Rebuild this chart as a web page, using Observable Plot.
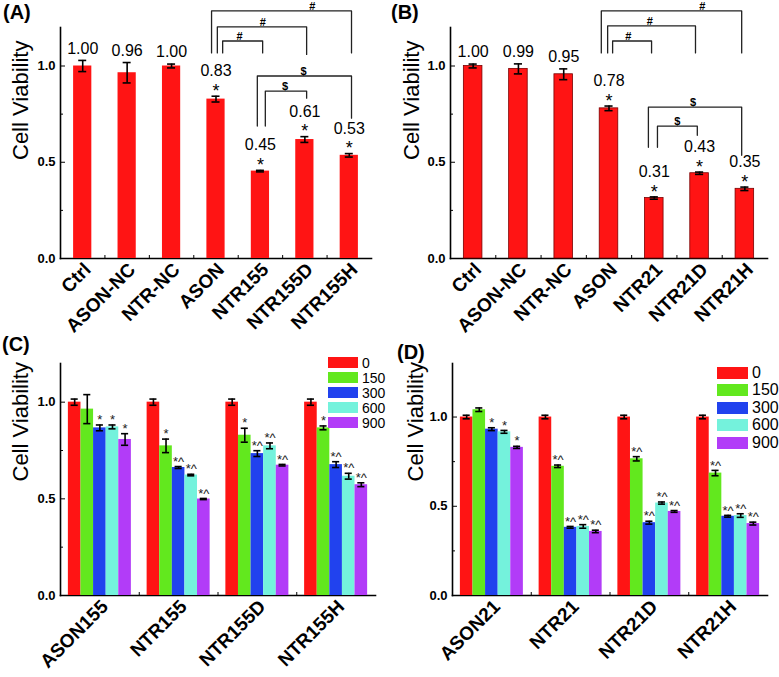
<!DOCTYPE html>
<html><head><meta charset="utf-8">
<script src="https://cdn.jsdelivr.net/npm/d3@7"></script>
<script src="https://cdn.jsdelivr.net/npm/@observablehq/plot@0.6"></script>
<style>
body{margin:0;background:#fff;font-family:Arial,"Liberation Sans",sans-serif;}
#wrap{position:relative;width:779px;height:677px;overflow:hidden;background:#fff;}
.abs{position:absolute;}
.plabel{position:absolute;font-weight:bold;font-size:20px;line-height:1;color:#000;}
.legend{position:absolute;}
.legend .row{display:flex;align-items:center;}
.legend .sw{display:inline-block;}
</style></head>
<body><div id="wrap"></div>
<script>
// ---------- data ----------
const catsA = ["Ctrl","ASON-NC","NTR-NC","ASON","NTR155","NTR155D","NTR155H"];
const valsA = [1.00,0.965,1.00,0.828,0.454,0.618,0.536];
const errsA = [0.029,0.053,0.010,0.015,0.004,0.015,0.009];
const lblsA = ["1.00","0.96","1.00","0.83","0.45","0.61","0.53"];
const starsA = ["","","","*","*","*","*"];

const catsB = ["Ctrl","ASON-NC","NTR-NC","ASON","NTR21","NTR21D","NTR21H"];
const valsB = [1.00,0.985,0.957,0.780,0.314,0.443,0.362];
const errsB = [0.010,0.026,0.028,0.012,0.006,0.006,0.009];
const lblsB = ["1.00","0.99","0.95","0.78","0.31","0.43","0.35"];
const starsB = ["","","","*","*","*","*"];

const yTitle = "Cell Viability";

// significance brackets (levels in data units)
const bracketsA = [
  {sym:"#", from:"ASON", fromOff:-0.10, to:"NTR155H", toOff:0.05, level:1.286, fromEnd:1.068, toEnd:1.068, symT:0.72},
  {sym:"#", from:"ASON", fromOff:0.03, to:"NTR155D", toOff:0.04, level:1.203, fromEnd:1.068, toEnd:1.060, symT:0.51},
  {sym:"#", from:"ASON", fromOff:0.15, to:"NTR155", toOff:0.05, level:1.130, fromEnd:1.068, toEnd:1.068, symT:0.42},
  {sym:"$", from:"NTR155", fromOff:-0.07, to:"NTR155H", toOff:0.05, level:0.948, fromEnd:0.688, toEnd:0.729, symT:0.49},
  {sym:"$", from:"NTR155", fromOff:0.11, to:"NTR155D", toOff:0.04, level:0.870, fromEnd:0.688, toEnd:0.833, symT:0.48}
];
const bracketsB = [
  {sym:"#", from:"ASON", fromOff:-0.17, to:"NTR21H", toOff:-0.07, level:1.286, fromEnd:1.068, toEnd:1.068, symT:0.72},
  {sym:"#", from:"ASON", fromOff:-0.03, to:"NTR21D", toOff:-0.09, level:1.208, fromEnd:1.068, toEnd:1.068, symT:0.48},
  {sym:"#", from:"ASON", fromOff:0.08, to:"NTR21", toOff:-0.06, level:1.130, fromEnd:1.068, toEnd:1.068, symT:0.40},
  {sym:"$", from:"NTR21", fromOff:-0.13, to:"NTR21H", toOff:-0.07, level:0.786, fromEnd:0.578, toEnd:0.536, symT:0.48},
  {sym:"$", from:"NTR21", fromOff:0.07, to:"NTR21D", toOff:-0.05, level:0.6875, fromEnd:0.578, toEnd:0.640, symT:0.50}
];

const doses = ["0","150","300","600","900"];
const doseColors = ["#ff1414","#62e81e","#2142ee","#74f2dc","#b23cf8"];

const groupsC = ["ASON155","NTR155","NTR155D","NTR155H"];
const valsC = [
  [1.00,0.964,0.867,0.872,0.807],
  [1.00,0.774,0.662,0.623,0.499],
  [1.00,0.829,0.734,0.774,0.674],
  [1.00,0.867,0.677,0.617,0.573]];
const errsC = [
  [0.016,0.075,0.015,0.010,0.030],
  [0.016,0.035,0.005,0.004,0.003],
  [0.016,0.036,0.015,0.015,0.004],
  [0.016,0.010,0.015,0.015,0.010]];
const marksC = [
  ["","","*","*","*"],
  ["","*","*^","*^","*^"],
  ["","*","*^","*^","*^"],
  ["","*","*^","*^","*^"]];

const groupsD = ["ASON21","NTR21","NTR21D","NTR21H"];
const valsD = [
  [1.00,1.041,0.932,0.917,0.830],
  [1.00,0.724,0.382,0.387,0.359],
  [1.00,0.766,0.408,0.518,0.471],
  [1.00,0.686,0.444,0.448,0.403]];
const errsD = [
  [0.010,0.010,0.008,0.008,0.006],
  [0.010,0.007,0.005,0.010,0.007],
  [0.010,0.012,0.008,0.006,0.005],
  [0.010,0.015,0.005,0.010,0.008]];
const marksD = [
  ["","","*","*","*"],
  ["","*^","*^","*^","*^"],
  ["","*^","*^","*^","*^"],
  ["","*^","*^","*^","*^"]];

// ---------- helpers ----------
const FONT = "Arial, 'Liberation Sans', sans-serif";
const RED = "#ff1414";
const wrap = document.getElementById("wrap");
function add(el, parent = wrap) { parent.appendChild(el); return el; }
function div(cls, text, css) { const d = document.createElement("div"); d.className = cls; if (text != null) d.textContent = text; Object.assign(d.style, css || {}); return d; }

function axes(yMaj, yMin, xTicks, xFmt, xMinor, tdx, tdy) {
  return [
    Plot.axisY(yMin, {tickSize: -3, tickFormat: () => "", label: null}),
    Plot.axisY(yMaj, {tickSize: -5, tickPadding: 10, tickFormat: d3.format(".1f"), fontSize: 13, fontWeight: "bold", label: null}),
    Plot.axisX(xMinor, {tickSize: -3, tickFormat: () => "", label: null}),
    Plot.axisX(xTicks, {tickSize: -5, tickFormat: () => "", label: null}),
    Plot.axisX(xTicks, {tickSize: 0, tickPadding: 8, dx: 5, tickRotate: -45, tickFormat: xFmt, fontSize: 19, fontWeight: "bold", label: null}),
    Plot.frame({anchor: "left", strokeWidth: 1.6}),
    Plot.frame({anchor: "bottom", strokeWidth: 1.6}),
    Plot.text([yTitle], {frameAnchor: "left", rotate: -90, dx: tdx, dy: tdy, fontSize: 22})
  ];
}

function simplePanel(cats, vals, errs, lbls, stars, brackets, o) {
  const rows = cats.map((c, i) => ({i, c, v: vals[i], e: errs[i], lbl: lbls[i], star: stars[i]}));
  const idx = cats.map((c, i) => i);
  const br = brackets.map((b, k) => {
    const x1 = cats.indexOf(b.from) + b.fromOff, x2 = cats.indexOf(b.to) + b.toOff;
    return {...b, k, x1, x2, xs: x1 + (x2 - x1) * b.symT};
  });
  const pts = br.flatMap(b => [
    {k: b.k, x: b.x1, y: b.fromEnd}, {k: b.k, x: b.x1, y: b.level},
    {k: b.k, x: b.x2, y: b.level}, {k: b.k, x: b.x2, y: b.toEnd}]);
  const BW = 0.205, CAP = 0.09;
  return Plot.plot({
    width: o.width, height: 340, marginLeft: 60, marginRight: o.mr, marginTop: 27, marginBottom: 82,
    style: {background: "transparent", fontFamily: FONT, overflow: "visible", color: "#000"},
    x: {domain: [-0.5, cats.length - 0.5], axis: null},
    y: {domain: [0, 1.2], axis: null},
    marks: [
      ...axes([0, 0.5, 1], [0.25, 0.75], idx, i => cats[i], idx.slice(1).map(i => i - 0.5), o.tdx, 17),
      Plot.rectY(rows, {x1: d => d.i - BW, x2: d => d.i + BW, y1: 0, y2: "v", fill: RED, stroke: o.stroke, strokeWidth: 0.8}),
      Plot.ruleX(rows, {x: "i", y1: d => d.v - d.e, y2: d => d.v + d.e, strokeWidth: 1.6}),
      Plot.ruleY(rows, {y: d => d.v + d.e, x1: d => d.i - CAP, x2: d => d.i + CAP, strokeWidth: 1.6}),
      Plot.ruleY(rows, {y: d => d.v - d.e, x1: d => d.i - CAP, x2: d => d.i + CAP, strokeWidth: 1.6}),
      Plot.text(rows.filter(d => !d.star), {x: "i", y: d => d.v + d.e, text: "lbl", dy: -12, fontSize: 16}),
      Plot.text(rows.filter(d => d.star), {x: "i", y: d => d.v + d.e, text: "lbl", dy: -25, fontSize: 16}),
      Plot.text(rows.filter(d => d.star), {x: "i", y: d => d.v + d.e, text: "star", dy: -5, fontSize: 18}),
      Plot.line(pts, {x: "x", y: "y", z: "k", stroke: "#222", strokeWidth: 1.3}),
      Plot.text(br, {x: "xs", y: "level", text: "sym", lineAnchor: "bottom", dy: -1, fontSize: 11, fontWeight: "bold"})
    ]
  });
}

function groupedPanel(groups, vals, errs, mks, o) {
  const rows = [];
  groups.forEach((g, gi) => doses.forEach((s, si) => rows.push({
    gi, si, dose: s, x: gi + (si - 2) * 0.16, v: vals[gi][si], e: errs[gi][si], m: mks[gi][si]})));
  const idx = groups.map((g, i) => i);
  const BW = 0.08, CAP = 0.045;
  return Plot.plot({
    width: o.width, height: 347, marginLeft: o.ml, marginRight: o.mr, marginTop: 33, marginBottom: 82,
    style: {background: "transparent", fontFamily: FONT, overflow: "visible", color: "#000"},
    x: {domain: [-0.5, groups.length - 0.5], axis: null},
    y: {domain: [0, o.ymax], axis: null},
    color: {domain: doses, range: doseColors},
    marks: [
      ...axes([0, 0.5, 1], [0.25, 0.75], idx, i => groups[i], idx.slice(1).map(i => i - 0.5), o.tdx, 2),
      Plot.rectY(rows, {x1: d => d.x - BW, x2: d => d.x + BW, y1: 0, y2: "v", fill: "dose"}),
      Plot.ruleX(rows, {x: "x", y1: d => d.v - d.e, y2: d => d.v + d.e, strokeWidth: 1.6}),
      Plot.ruleY(rows, {y: d => d.v + d.e, x1: d => d.x - CAP, x2: d => d.x + CAP, strokeWidth: 1.6}),
      Plot.ruleY(rows, {y: d => d.v - d.e, x1: d => d.x - CAP, x2: d => d.x + CAP, strokeWidth: 1.6}),
      Plot.text(rows.filter(d => d.m), {x: "x", y: d => d.v + d.e, text: "m", dy: -5, fontSize: 13, fill: "#222"})
    ]
  });
}

function legend(parent, left, top, sw, sh, step, fs) {
  const L = add(div("legend", null, {left: left + "px", top: top + "px"}), parent);
  doses.forEach((d, i) => {
    const r = add(div("row", null, {height: step + "px"}), L);
    add(div("sw", null, {width: sw + "px", height: sh + "px", background: doseColors[i]}), r);
    add(div("", d, {fontSize: fs + "px", marginLeft: "4px", lineHeight: "1"}), r);
  });
}

// ---------- layout ----------
const pa = simplePanel(catsA, valsA, errsA, lblsA, starsA, bracketsA, {width: 390, mr: 19, stroke: "none", tdx: -40});
pa.style.position = "absolute"; pa.style.left = "0px"; pa.style.top = "0px"; add(pa);
const pb = simplePanel(catsB, valsB, errsB, lblsB, starsB, bracketsB, {width: 389, mr: 12, stroke: "#7a0000", tdx: -39});
pb.style.position = "absolute"; pb.style.left = "390px"; pb.style.top = "0px"; add(pb);

const boxC = add(div("abs", null, {left: "0px", top: "330px", width: "390px", height: "347px"}));
const pc = groupedPanel(groupsC, valsC, errsC, marksC, {width: 390, ml: 60, mr: 15, ymax: 1.2, tdx: -40});
pc.style.position = "absolute"; pc.style.left = "0px"; pc.style.top = "0px"; add(pc, boxC);
legend(boxC, 328, 25, 30, 11, 15, 14);

const boxD = add(div("abs", null, {left: "390px", top: "330px", width: "389px", height: "347px"}));
const pd = groupedPanel(groupsD, valsD, errsD, marksD, {width: 389, ml: 62, mr: 12, ymax: 1.3, tdx: -37});
pd.style.position = "absolute"; pd.style.left = "0px"; pd.style.top = "0px"; add(pd, boxD);
legend(boxD, 327, 34, 31, 12, 17.5, 16);

// panel letters
add(div("plabel", "(A)", {left: "3px", top: "2px"}));
add(div("plabel", "(B)", {left: "391px", top: "2px"}));
add(div("plabel", "(C)", {left: "2px", top: "334px"}));
add(div("plabel", "(D)", {left: "397px", top: "342px"}));
</script></body></html>
